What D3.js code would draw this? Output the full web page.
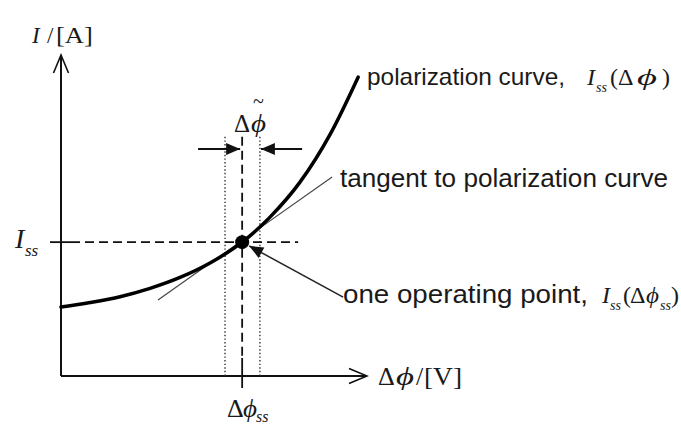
<!DOCTYPE html>
<html>
<head>
<meta charset="utf-8">
<script src="https://cdn.jsdelivr.net/npm/d3@7"></script>
<style>
  html, body { margin: 0; padding: 0; background: #fff; }
  svg { display: block; }
  .sans { font-family: 'Liberation Sans', Arial, sans-serif; fill: #1a1a1a; }
  .serif { font-family: 'Liberation Serif', 'Times New Roman', serif; fill: #1a1a1a; }
</style>
</head>
<body>
<div id="chart"></div>
<script>
/* global d3 */

// polarization curve I(Δφ) (arbitrary units, 0-100)
const curveX = [0, 9.5, 19.3, 29.1, 38.9, 48.7, 59.2, 68.3, 78.1, 87.9, 97.1];
const curveY = [21.5, 22.9, 24.7, 27.3, 30.7, 35.2, 41.7, 49.5, 60.4, 75.2, 93.1];

// steady state operating point (Δφss, Iss)
const opPoint = [59.2, 41.7];

// tangent through the operating point, two ends
const tangentX = [31.7, 88.6];
const tangentY = [23.7, 62.0];

// perturbation window Δφ~ around Δφss
const windowX = [53.6, 65.0];
const windowTop = 74.5;      // top of the guide lines
const windowArrowY = 70.7;   // level of the Δφ~ arrows
const windowArrowX = [44.8, 78.8];

// I-level guide ends
const guideEndX = 77.5;

// label start for the operating point callout
const calloutFrom = [92.2, 24.6];

// dimensions
const width = 681;
const height = 428;
const DOT_R = 7;

// scales
const scaleX = d3.scaleLinear().domain([0, 100]).range([61, 367]);
const scaleY = d3.scaleLinear().domain([0, 100]).range([376, 55]);

const $svg = d3.select('#chart')
  .append('svg')
  .attr('width', width)
  .attr('height', height);

// arrow markers
const $defs = $svg.append('defs');
$defs.append('marker')
  .attr('id', 'open')
  .attr('markerUnits', 'userSpaceOnUse')
  .attr('viewBox', '-20 -10 22 20')
  .attr('refX', 0).attr('refY', 0)
  .attr('markerWidth', 22).attr('markerHeight', 20)
  .attr('orient', 'auto')
  .append('path')
  .attr('d', 'M-18,-7.5L0,0L-18,7.5')
  .attr('fill', 'none')
  .attr('stroke', '#111')
  .attr('stroke-width', 1.6);

$defs.append('marker')
  .attr('id', 'solid')
  .attr('markerUnits', 'userSpaceOnUse')
  .attr('viewBox', '-16 -8 17 16')
  .attr('refX', 0).attr('refY', 0)
  .attr('markerWidth', 17).attr('markerHeight', 16)
  .attr('orient', 'auto')
  .append('path')
  .attr('d', 'M-14,-6L0,0L-14,6Z')
  .attr('fill', '#111');

const $vis = $svg.append('g').attr('class', 'g-vis');

// axes
$vis.append('line')
  .attr('x1', scaleX(0)).attr('y1', scaleY(0))
  .attr('x2', scaleX(0)).attr('y2', scaleY(100))
  .attr('stroke', '#111').attr('stroke-width', 2)
  .attr('marker-end', 'url(#open)');

$vis.append('line')
  .attr('x1', scaleX(0)).attr('y1', scaleY(0))
  .attr('x2', scaleX(100)).attr('y2', scaleY(0))
  .attr('stroke', '#111').attr('stroke-width', 2)
  .attr('marker-end', 'url(#open)');

// dotted window lines
$vis.selectAll('.window')
  .data(windowX)
  .join('line')
  .attr('class', 'window')
  .attr('x1', d => scaleX(d)).attr('x2', d => scaleX(d))
  .attr('y1', scaleY(windowTop)).attr('y2', scaleY(0))
  .attr('stroke', '#333').attr('stroke-width', 1.4)
  .attr('stroke-dasharray', '1.4,2.2');

// dashed guides to the operating point
const [opX, opY] = opPoint;
$vis.append('line')
  .attr('x1', scaleX(opX)).attr('x2', scaleX(opX))
  .attr('y1', scaleY(windowTop)).attr('y2', scaleY(0) - 18)
  .attr('stroke', '#111').attr('stroke-width', 1.8)
  .attr('stroke-dasharray', '9,5');
$vis.append('line')
  .attr('x1', scaleX(opX)).attr('x2', scaleX(opX))
  .attr('y1', scaleY(0) - 18).attr('y2', scaleY(0) + 12)
  .attr('stroke', '#111').attr('stroke-width', 1.8);

$vis.append('line')
  .attr('x1', scaleX(0) + 24).attr('x2', scaleX(guideEndX))
  .attr('y1', scaleY(opY)).attr('y2', scaleY(opY))
  .attr('stroke', '#111').attr('stroke-width', 1.8)
  .attr('stroke-dasharray', '9,5');
$vis.append('line')
  .attr('x1', scaleX(0) - 11).attr('x2', scaleX(0) + 19)
  .attr('y1', scaleY(opY)).attr('y2', scaleY(opY))
  .attr('stroke', '#111').attr('stroke-width', 1.8);

// Δφ~ arrows pointing in at the window
$vis.append('line')
  .attr('x1', scaleX(windowArrowX[0])).attr('x2', scaleX(opX) - 2)
  .attr('y1', scaleY(windowArrowY)).attr('y2', scaleY(windowArrowY))
  .attr('stroke', '#111').attr('stroke-width', 2)
  .attr('marker-end', 'url(#solid)');
$vis.append('line')
  .attr('x1', scaleX(windowArrowX[1])).attr('x2', scaleX(windowX[1]) + 1)
  .attr('y1', scaleY(windowArrowY)).attr('y2', scaleY(windowArrowY))
  .attr('stroke', '#111').attr('stroke-width', 2)
  .attr('marker-end', 'url(#solid)');

// tangent
$vis.append('line')
  .attr('x1', scaleX(tangentX[0])).attr('y1', scaleY(tangentY[0]))
  .attr('x2', scaleX(tangentX[1])).attr('y2', scaleY(tangentY[1]))
  .attr('stroke', '#444').attr('stroke-width', 1.2);

// polarization curve
const generateLine = d3.line()
  .curve(d3.curveMonotoneX)
  .x(d => scaleX(d[0]))
  .y(d => scaleY(d[1]));

$vis.append('path')
  .datum(curveX.map((x, i) => [x, curveY[i]]))
  .attr('d', generateLine)
  .attr('fill', 'none')
  .attr('stroke', '#000')
  .attr('stroke-width', 3.5)
  .attr('stroke-linecap', 'round');

// operating point
$vis.append('circle')
  .attr('cx', scaleX(opX)).attr('cy', scaleY(opY))
  .attr('r', DOT_R)
  .attr('fill', '#000');

// callout arrow to the operating point
const cx0 = scaleX(calloutFrom[0]);
const cy0 = scaleY(calloutFrom[1]);
const dx = scaleX(opX) - cx0;
const dy = scaleY(opY) - cy0;
const len = Math.sqrt(dx * dx + dy * dy);
$vis.append('line')
  .attr('x1', cx0).attr('y1', cy0)
  .attr('x2', scaleX(opX) - (dx / len) * (DOT_R + 1))
  .attr('y2', scaleY(opY) - (dy / len) * (DOT_R + 1))
  .attr('stroke', '#222').attr('stroke-width', 1.5)
  .attr('marker-end', 'url(#solid)');

// text helpers
const $labels = $svg.append('g').attr('class', 'g-labels');

function sans(text, x, y, size, length) {
  $labels.append('text')
    .attr('class', 'sans')
    .attr('x', x).attr('y', y)
    .attr('textLength', length)
    .attr('lengthAdjust', 'spacingAndGlyphs')
    .style('font-size', `${size}px`)
    .text(text);
}

// pieces: [text, x, style, length] where style is i (italic), r (roman) or s (subscript)
function math(pieces, y, size, subShift = 0.3) {
  const $t = $labels.append('text').attr('class', 'serif').attr('y', y);
  pieces.forEach(([t, x, style, l]) => {
    const $s = $t.append('tspan')
      .attr('x', x)
      .attr('y', style === 's' ? y + size * subShift : y)
      .style('font-size', style === 's' ? `${Math.round(size * 0.6)}px` : `${size}px`)
      .style('font-style', style === 'r' ? 'normal' : 'italic')
      .text(t);
    if (l) $s.attr('textLength', l).attr('lengthAdjust', 'spacingAndGlyphs');
  });
}

// axis titles
math([['I', 32, 'i'], ['/', 47, 'r'], ['[A]', 56, 'r', 37]], 43, 23);
math([['Δ', 378, 'r'], ['ϕ', 396, 'i', 18], ['/', 416, 'r'], ['[V]', 424, 'r', 38]], 385, 26);

// tick labels at the operating point
math([['I', 15, 'i'], ['ss', 25, 's']], 248, 28);
math([['Δ', 227, 'r'], ['ϕ', 243, 'i', 14], ['ss', 256, 's']], 417, 26, 0.2);

// window label Δφ~
math([['Δ', 234, 'r'], ['ϕ', 251, 'i', 15]], 132, 25);
$labels.append('text')
  .attr('class', 'serif')
  .attr('x', 253).attr('y', 108)
  .style('font-size', '20px')
  .text('~');

// annotations
sans('polarization curve,', 367, 85, 24, 198);
math([['I', 587, 'i'], ['ss', 596, 's'], ['(', 610, 'r'], ['Δ', 618, 'r'], ['ϕ', 637, 'i', 20], [')', 662, 'r']], 85, 24);

sans('tangent to polarization curve', 340, 187, 25, 328);

sans('one operating point,', 343, 303, 25, 245);
math([['I', 602, 'i'], ['ss', 610, 's'], ['(', 623, 'r'], ['Δ', 630, 'r'], ['ϕ', 646, 'i', 13], ['ss', 660, 's'], [')', 671, 'r']], 303, 24);
</script>
</body>
</html>
